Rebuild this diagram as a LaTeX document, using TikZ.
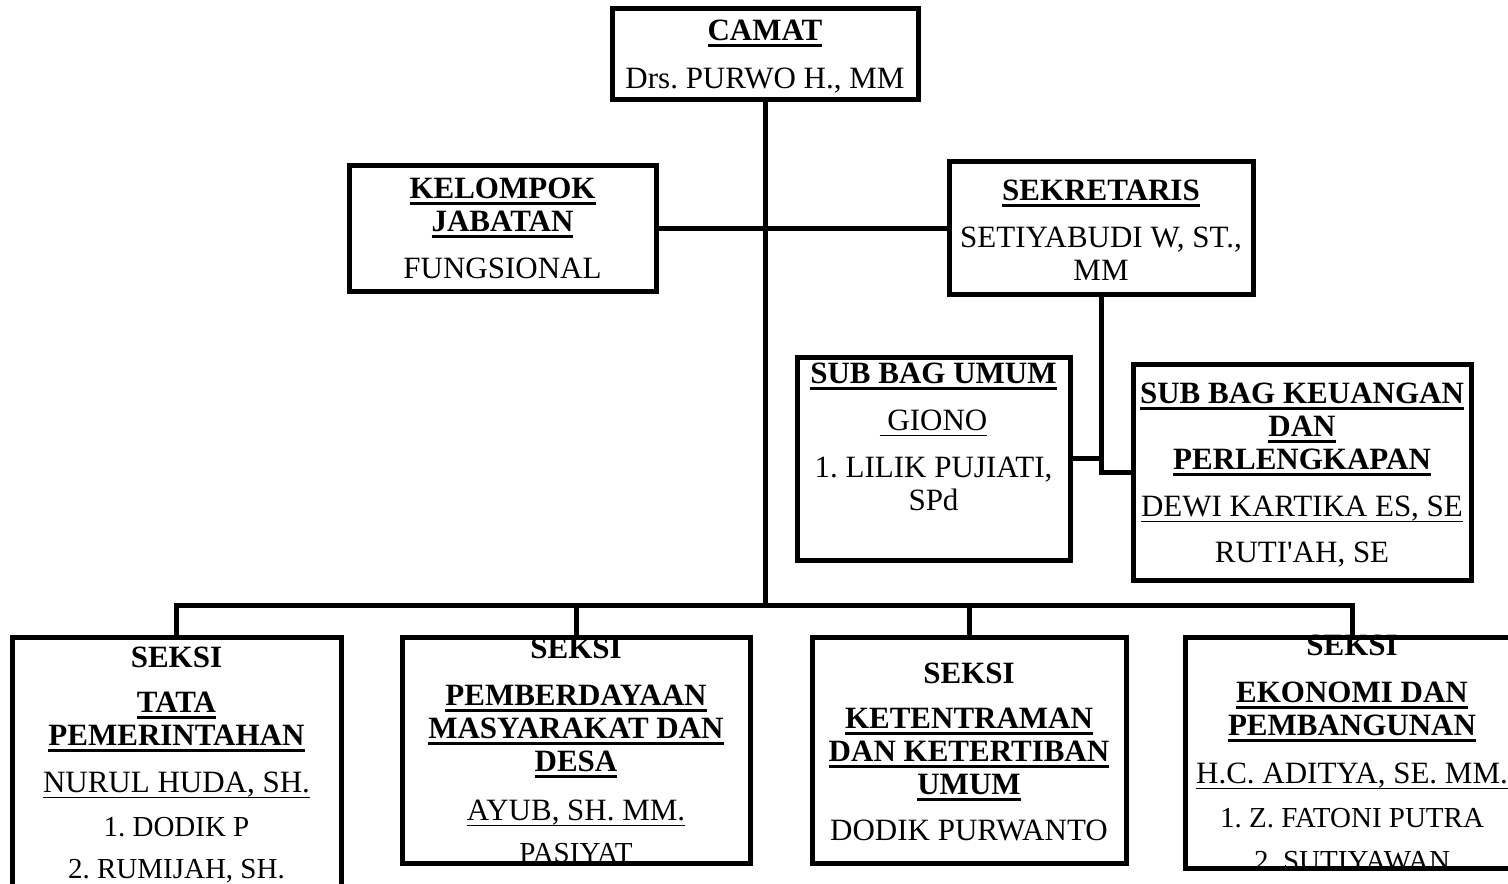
\documentclass[tikz,border=0pt]{standalone}
\usepackage{fontspec}
\setmainfont{Liberation Serif}
\usetikzlibrary{positioning}
\frenchspacing

% underlined title / underlined name
\newcommand{\ttl}[1]{{\bfseries\setbox0=\hbox{#1}\rlap{\copy0}\rule[-3pt]{\wd0}{1.5pt}}}
\newcommand{\nm}[1]{{\setbox0=\hbox{#1}\rlap{\copy0}\rule[-2.6pt]{\wd0}{0.8pt}}}
\newcommand{\sm}[1]{{\fontsize{14.5}{16.5}\selectfont #1}}

\tikzset{
  office/.style={draw,line width=2.5pt,inner sep=0pt},
  wire/.style={line width=2.5pt},
  txt/.style={align=center,anchor=north,inner sep=0pt,
    font=\fontsize{15.5}{16.5}\selectfont\frenchspacing}
}

\begin{document}
\begin{tikzpicture}[x=0.5pt,y=-0.5pt]
      \clip (0,0) rectangle (1508,883);

      % boxes
      \node[office,minimum width=153pt,minimum height=45.5pt] (camat) at (765,54.5) {};
      \node[office,minimum width=153.5pt,minimum height=63pt] (kelompok) at (502.5,228) {};
      \node[office,minimum width=152pt,minimum height=66.5pt] (sekretaris) at (1101,228) {};
      \node[office,minimum width=136.5pt,minimum height=101.5pt] (umum) at (933.5,458.5) {};
      \node[office,minimum width=169pt,minimum height=108pt] (keuangan) at (1302,472) {};

      \node[office,minimum width=164.5pt,minimum height=134pt] (b1) at (176.5,771) {};
      \node[office,minimum width=174pt,minimum height=113pt] (b2) at (576,750) {};
      \node[office,minimum width=157pt,minimum height=113pt] (b3) at (969,750) {};
      \node[office,minimum width=167pt,minimum height=115.5pt] (b4) at (1352,752.5) {};

      % texts
      \node[txt] (camat-t) at (765,20) {\ttl{CAMAT}\\[7.5pt] Drs. PURWO H., MM};
      \node[txt] (kelompok-t) at (502.5,178) {\ttl{KELOMPOK}\\\ttl{JABATAN}\\[7pt] FUNGSIONAL};
      \node[txt] (sekretaris-t) at (1101,180) {\ttl{SEKRETARIS}\\[7pt] SETIYABUDI W, ST.,\\MM};
      \node[txt] (umum-t) at (933.5,363) {\ttl{SUB BAG UMUM}\\[7pt]\nm{\ GIONO}\\[7pt] 1. LILIK PUJIATI,\\SPd};
      \node[txt] (keuangan-t) at (1302,383) {\ttl{SUB BAG KEUANGAN}\\\ttl{DAN}\\\ttl{PERLENGKAPAN}\\[7pt]\nm{DEWI KARTIKA ES, SE}\\[6.5pt] RUTI\textquotesingle AH, SE};

      \begin{scope}
        \clip (b1.north west) rectangle (b1.south east);
        \node[txt] (b1-t) at (176.5,647) {\textbf{SEKSI}\\[6pt]\ttl{TATA}\\\ttl{PEMERINTAHAN}\\[7pt]\nm{NURUL HUDA, SH.}\\[5.5pt]\sm{1. DODIK P}\\[4.5pt]\sm{2. RUMIJAH, SH.}};
      \end{scope}
      \begin{scope}
        \clip (b2.north west) rectangle (b2.south east);
        \node[txt] (b2-t) at (576,638) {\textbf{SEKSI}\\[7pt]\ttl{PEMBERDAYAAN}\\\ttl{MASYARAKAT DAN}\\\ttl{DESA}\\[8pt]\nm{AYUB, SH. MM.}\\[4.5pt]\sm{PASIYAT}};
      \end{scope}
      \begin{scope}
        \clip (b3.north west) rectangle (b3.south east);
        \node[txt] (b3-t) at (969,663) {\textbf{SEKSI}\\[6pt]\ttl{KETENTRAMAN}\\\ttl{DAN KETERTIBAN}\\\ttl{UMUM}\\[6.5pt] DODIK PURWANTO};
      \end{scope}
      \begin{scope}
        \clip (b4.north west) rectangle (b4.south east);
        \node[txt] (b4-t) at (1352,635) {\textbf{SEKSI}\\[7pt]\ttl{EKONOMI DAN}\\\ttl{PEMBANGUNAN}\\[7.5pt]\nm{H.C. ADITYA, SE. MM.}\\[5.5pt]\sm{1. Z. FATONI PUTRA}\\[5pt]\sm{2. SUTIYAWAN}};
      \end{scope}

      % lines
      \coordinate (bus) at (765,605);
      \draw[wire] (camat.south) -- (bus);
      \draw[wire] (kelompok.east) -- (sekretaris.west);
      \draw[wire] (sekretaris.south) |- (keuangan.west);
      \draw[wire] (umum.east) -- (umum.east -| sekretaris.south);
      \draw[wire] (b1.north) |- (bus) -| (b4.north);
      \foreach \b in {b2,b3}
        \draw[wire] (\b.north) -- (\b.north |- bus);
    \end{tikzpicture}
\end{document}
